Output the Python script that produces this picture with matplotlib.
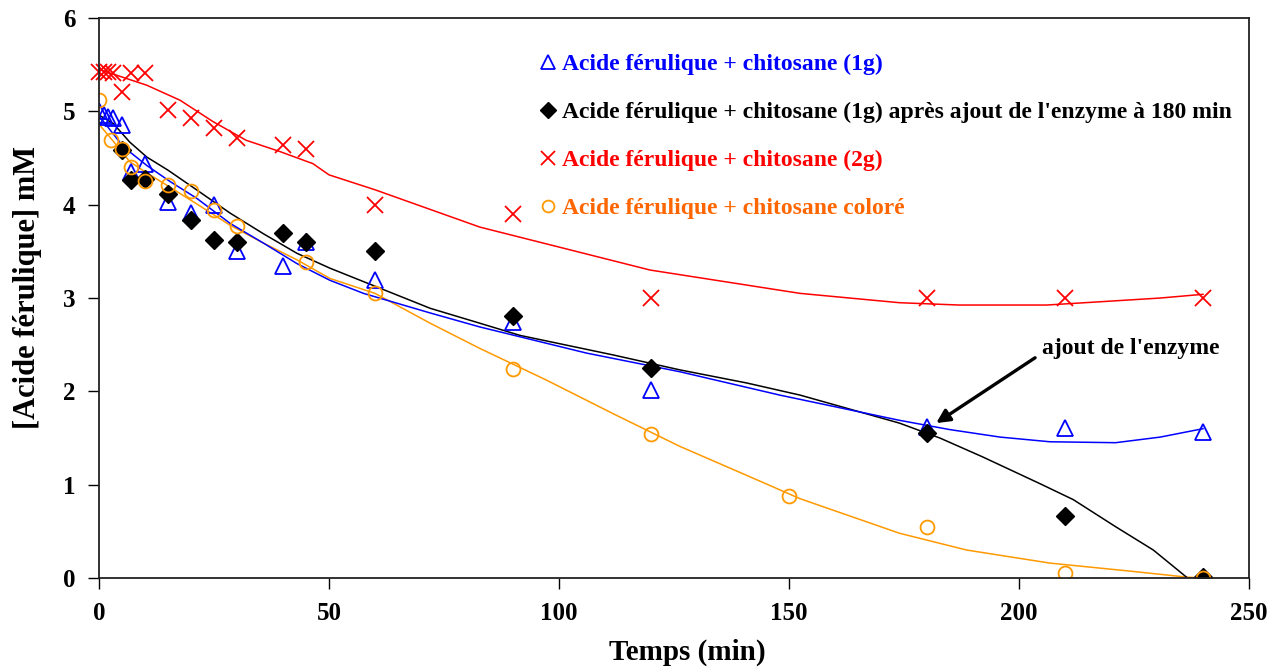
"""Ferulic acid concentration vs time with chitosan (recreated chart)."""

import matplotlib
matplotlib.use("Agg")
import matplotlib.pyplot as plt

plt.rcParams["font.family"] = ["Liberation Serif", "DejaVu Serif"]
plt.rcParams["font.weight"] = "bold"

# measured points
t_1g = [0, 1, 2, 3, 5, 7, 10, 15, 20, 25, 30, 40, 45, 60, 90, 120, 180, 210, 240]
y_1g = [5.0, 4.96, 4.94, 4.93, 4.85, 4.35, 4.44, 4.03, 3.91, 4.0, 3.5, 3.34, 3.6,
        3.19, 2.74, 2.01, 1.62, 1.61, 1.56]

t_enz = [5, 7, 10, 15, 20, 25, 30, 40, 45, 60, 90, 120, 180, 210, 240]
y_enz = [4.59, 4.27, 4.28, 4.12, 3.84, 3.62, 3.60, 3.70, 3.60, 3.50, 2.81, 2.25,
         1.55, 0.66, 0.01]

t_2g = [0, 1, 2, 3, 5, 7, 10, 15, 20, 25, 30, 40, 45, 60, 90, 120, 180, 210, 240]
y_2g = [5.42, 5.42, 5.42, 5.41, 5.21, 5.41, 5.41, 5.01, 4.93, 4.82, 4.71, 4.64,
        4.60, 4.0, 3.9, 3.0, 3.0, 3.0, 3.0]

t_col = [0, 2.5, 5, 7, 10, 15, 20, 25, 30, 45, 60, 90, 120, 150, 180, 210, 240]
y_col = [5.12, 4.69, 4.60, 4.40, 4.25, 4.21, 4.15, 3.94, 3.77, 3.39, 3.05, 2.24,
         1.54, 0.88, 0.55, 0.05, 0.0]

# smoothed trend curves
tt_1g = [0.2, 5.3, 10.4, 15.4, 21.2, 28.5, 35.7, 43, 50.2, 57.5, 72, 82.8, 106,
         126.3, 148, 174, 185, 195.9, 206.7, 221, 230.7, 240]
yt_1g = [4.94, 4.62, 4.42, 4.25, 4.07, 3.80, 3.59, 3.37, 3.19, 3.05, 2.84, 2.69,
         2.41, 2.21, 1.96, 1.69, 1.59, 1.51, 1.46, 1.45, 1.51, 1.60]

tt_enz = [0, 3.1, 6.7, 10.4, 15, 21.2, 28.5, 35.7, 43, 50.2, 72, 82.8, 91.5,
          111.8, 126.3, 140.8, 152.4, 174, 182.8, 192, 204.6, 211.8, 221, 229.2,
          236.4]
yt_enz = [4.96, 4.87, 4.67, 4.51, 4.37, 4.16, 3.91, 3.69, 3.48, 3.32, 2.89, 2.73,
          2.60, 2.39, 2.23, 2.09, 1.96, 1.66, 1.50, 1.30, 1.01, 0.84, 0.55, 0.30,
          0.01]

tt_2g = [0, 10.4, 17.6, 24.8, 32, 39.3, 46.5, 50, 60, 82.8, 119.8, 152.4, 174,
         187, 206, 217.6, 230.7, 240]
yt_2g = [5.45, 5.28, 5.12, 4.89, 4.69, 4.57, 4.44, 4.32, 4.16, 3.76, 3.30, 3.05,
         2.95, 2.925, 2.925, 2.96, 3.0, 3.04]

tt_col = [0.2, 3.1, 6.7, 10.4, 14.7, 21.2, 28.5, 35.7, 43, 50.2, 60, 72, 82.8,
          97.3, 111.8, 126.3, 140.8, 152.4, 174, 188.6, 206.7, 224.9, 236.4, 240]
yt_col = [4.85, 4.68, 4.46, 4.34, 4.21, 4.01, 3.78, 3.59, 3.41, 3.21, 3.05, 2.73,
          2.46, 2.12, 1.76, 1.41, 1.10, 0.85, 0.48, 0.30, 0.16, 0.07, 0.01, 0.0]

labels = [
    "Acide férulique + chitosane (1g)",
    "Acide férulique + chitosane (1g) après ajout de l'enzyme à 180 min",
    "Acide férulique + chitosane (2g)",
    "Acide férulique + chitosane coloré",
]

BLUE, RED, ORANGE = "#0000ff", "#ff0000", "#ff9900"

fig = plt.figure(figsize=(12.81, 6.69), dpi=100)
ax = fig.add_axes([0.0773, 0.136, 0.8977, 0.837])

ax.plot(tt_2g, yt_2g, color=RED, lw=1.1)
ax.plot(tt_col, yt_col, color=ORANGE, lw=1.1)
ax.plot(tt_enz, yt_enz, color="black", lw=1.1)
ax.plot(tt_1g, yt_1g, color=BLUE, lw=1.1)

h1, = ax.plot(t_1g, y_1g, ls="none", marker="^", ms=12, mfc="none", mec=BLUE,
              mew=1.3, label=labels[0])
h2, = ax.plot(t_enz, y_enz, ls="none", marker="D", ms=9, color="black",
              label=labels[1])
h3, = ax.plot(t_2g, y_2g, ls="none", marker="x", ms=12, mec=RED, mew=1.3,
              label=labels[2], clip_on=False)
h4, = ax.plot(t_col, y_col, ls="none", marker="o", ms=10, mfc="none", mec=ORANGE,
              mew=1.3, label=labels[3])

leg = ax.legend(handles=[h1, h2, h3, h4], loc="upper left",
                bbox_to_anchor=(0.366, 0.975), frameon=False,
                handlelength=0.6, handletextpad=0.3, labelspacing=1.13,
                markerscale=0.85,
                labelcolor=[BLUE, "black", RED, "#ff6600"],
                prop={"weight": "bold", "size": 17})

ax.text(205, 2.46, "ajout de l'enzyme", fontsize=17, fontweight="bold",
        ha="left", va="center")
ax.annotate("", xy=(182, 1.66), xytext=(203.5, 2.36),
            arrowprops=dict(arrowstyle="-|>", color="black", lw=2.4,
                            mutation_scale=20, shrinkA=0, shrinkB=0))

ax.set_xlim(0, 250)
ax.set_ylim(0, 6)
ax.set_xticks([0, 50, 100, 150, 200, 250])
ax.set_yticks([0, 1, 2, 3, 4, 5, 6])
ax.tick_params(direction="out", length=8, width=1, labelsize=18, pad=9)
for s in ax.spines.values():
    s.set_linewidth(1.3)
    s.set_color("#222222")

ax.set_xlabel("Temps (min)", fontsize=21, fontweight="bold")
ax.set_ylabel("[Acide férulique] mM", fontsize=22, fontweight="bold")
ax.xaxis.set_label_coords(0.512, -0.108)
ax.yaxis.set_label_coords(-0.050, 0.518)

fig.savefig("out.png", dpi=100)
